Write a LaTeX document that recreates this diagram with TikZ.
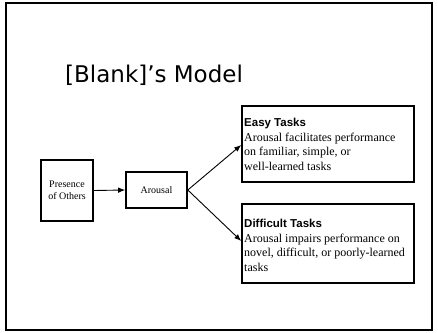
\documentclass[tikz,border=0pt]{standalone}
\usepackage{fontspec}
\setmainfont{Liberation Serif}
\setsansfont{Liberation Sans}
\newfontfamily\titlefont{DejaVu Sans}
\usetikzlibrary{arrows.meta}
\begin{document}
\begin{tikzpicture}[x=1pt,y=-1pt,
  box/.style={draw,line width=1.6pt,inner sep=0pt},
  conn/.style={line width=0.9pt,-{Latex[length=7pt,width=5.5pt]}},
  small/.style={font=\fontsize{10}{12}\selectfont,align=center,inner sep=0pt},
  body/.style={font=\fontsize{12}{14.7}\selectfont,align=left,anchor=north west,inner sep=0pt},
]
\useasboundingbox (0,0) rectangle (438,332);
\draw[line width=2.6pt] (6,3) rectangle (432,330);
\node[anchor=base west,inner sep=0pt,font=\titlefont\fontsize{23}{27}\selectfont] (title) at (65,82) {[Blank]’s Model};

\node[box,minimum width=52pt,minimum height=61pt] (pres) at (67,190.5) {};
\node[small] (prest) at (pres) {Presence\\of Others};
\node[box,minimum width=61pt,minimum height=36pt] (arou) at (156.5,190) {};
\node[small] (aroutx) at (arou) {Arousal};
\node[box,minimum width=172pt,minimum height=76pt] (easy) at (328,144) {};
\node[box,minimum width=172pt,minimum height=79pt] (diff) at (328,243.5) {};

\node[body] (easyt) at (244,118) {{\sffamily\bfseries\fontsize{11.5}{14}\selectfont Easy Tasks}\\Arousal facilitates performance\\on familiar, simple, or\\well-learned tasks};
\node[body] (difft) at (244,219) {{\sffamily\bfseries\fontsize{11.5}{14}\selectfont Difficult Tasks}\\Arousal impairs performance on\\novel, difficult, or poorly-learned\\tasks};

\draw[conn] (pres.east) -- (arou.west);
\draw[conn] (arou.east) -- (easy.west |- 0,145);
\draw[conn] (arou.east) -- (diff.west |- 0,241);
\end{tikzpicture}
\end{document}
